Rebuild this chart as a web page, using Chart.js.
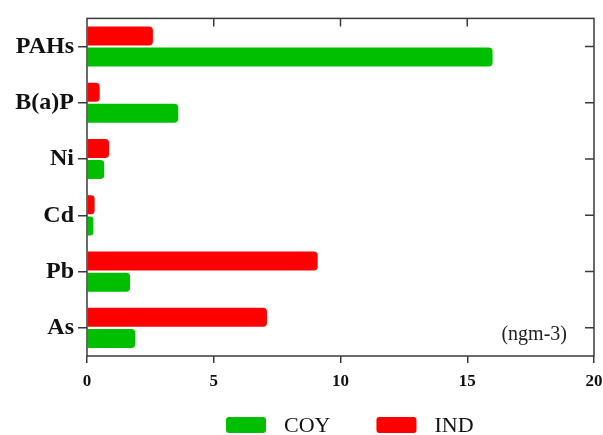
<!DOCTYPE html>
<html>
<head>
  <meta charset="UTF-8">
  <title>Concentrations</title>
  <script src="https://cdn.jsdelivr.net/npm/chart.js"></script>
  <style>
    html, body { margin: 0; padding: 0; background: #fff; }
    #wrap { width: 603px; height: 435px; }
  </style>
</head>
<body>
  <div id="wrap"><canvas id="grafico"></canvas></div>

  <script>
    // dados
    const categorias = ['PAHs', 'B(a)P', 'Ni', 'Cd', 'Pb', 'As'];
    const valoresIND = [2.6, 0.5, 0.87, 0.3, 9.1, 7.1];
    const valoresCOY = [16.0, 3.6, 0.68, 0.25, 1.7, 1.9];
    const ticksX = [0, 5, 10, 15, 20];
    const unidade = '(ngm-3)';

    const corEixo = '#3a3a3a';
    const fonteSerif = '"Liberation Serif", "Times New Roman", serif';

    // moldura com ticks internos no topo e na direita + unidade + legenda
    const moldura = {
      id: 'moldura',
      afterDraw(chart) {
        const ctx = chart.ctx;
        const a = chart.chartArea;
        const x = chart.scales.x, y = chart.scales.y;
        ctx.save();
        ctx.strokeStyle = corEixo;
        ctx.lineWidth = 1.5;
        ctx.strokeRect(a.left, a.top, a.right - a.left, a.bottom - a.top);
        ctx.beginPath();
        ticksX.slice(1, -1).forEach(v => {
          const px = x.getPixelForValue(v);
          ctx.moveTo(px, a.top);
          ctx.lineTo(px, a.top + 8);
        });
        categorias.forEach((c, i) => {
          const py = y.getPixelForValue(i);
          ctx.moveTo(a.right, py);
          ctx.lineTo(a.right - 9, py);
        });
        ctx.stroke();

        // unidade
        ctx.fillStyle = '#222';
        ctx.font = '20px ' + fonteSerif;
        ctx.textAlign = 'right';
        ctx.textBaseline = 'middle';
        ctx.fillText(unidade, a.right - 27, a.bottom - 21);

        // legenda (COY primeiro)
        const itens = chart.data.datasets.slice().reverse();
        ctx.font = '22px ' + fonteSerif;
        const larg = itens.map(d => 40 + 18 + ctx.measureText(d.label).width);
        const total = larg.reduce((s, w) => s + w, 0) + 46 * (itens.length - 1);
        let cx = 226;
        const cy = 425;
        ctx.textAlign = 'left';
        itens.forEach((d, i) => {
          ctx.fillStyle = d.backgroundColor;
          ctx.beginPath();
          ctx.roundRect(cx, cy - 8, 40, 16, 3);
          ctx.fill();
          ctx.fillStyle = '#111';
          ctx.fillText(d.label, cx + 58, cy + 1);
          cx += larg[i] + 46;
        });
        ctx.restore();
      }
    };

    new Chart(document.getElementById('grafico'), {
      type: 'bar',
      data: {
        labels: categorias,
        datasets: [
          {
            label: 'IND',
            data: valoresIND,
            backgroundColor: '#ff0000',
            borderRadius: 4
          },
          {
            label: 'COY',
            data: valoresCOY,
            backgroundColor: '#00bf00',
            borderRadius: 4
          }
        ]
      },
      plugins: [moldura],
      options: {
        indexAxis: 'y',
        responsive: true,
        maintainAspectRatio: false,
        animation: false,
        categoryPercentage: 0.75,
        barPercentage: 0.9,
        layout: { padding: { top: 17, right: 9, left: 0, bottom: 39 } },
        scales: {
          x: {
            min: 0, max: 20,
            afterBuildTicks(scale) {
              scale.ticks = ticksX.map(v => ({ value: v }));
            },
            afterFit(scale) {
              scale.height = 40;
              scale.paddingRight = 0;
            },
            grid: { drawOnChartArea: false, tickLength: 7, color: corEixo, lineWidth: 1.5 },
            border: { display: false },
            ticks: {
              padding: 8,
              color: '#111',
              font: { family: fonteSerif, size: 17, weight: 'bold' }
            }
          },
          y: {
            afterFit(scale) { scale.width = 87; },
            grid: { drawOnChartArea: false, tickLength: 9, color: corEixo, lineWidth: 1.5, offset: false },
            border: { display: false },
            ticks: {
              padding: 4,
              color: '#111',
              font: { family: fonteSerif, size: 24, weight: 'bold' }
            }
          }
        },
        plugins: {
          tooltip: { enabled: false },
          legend: { display: false }
        }
      }
    });
  </script>
</body>
</html>
